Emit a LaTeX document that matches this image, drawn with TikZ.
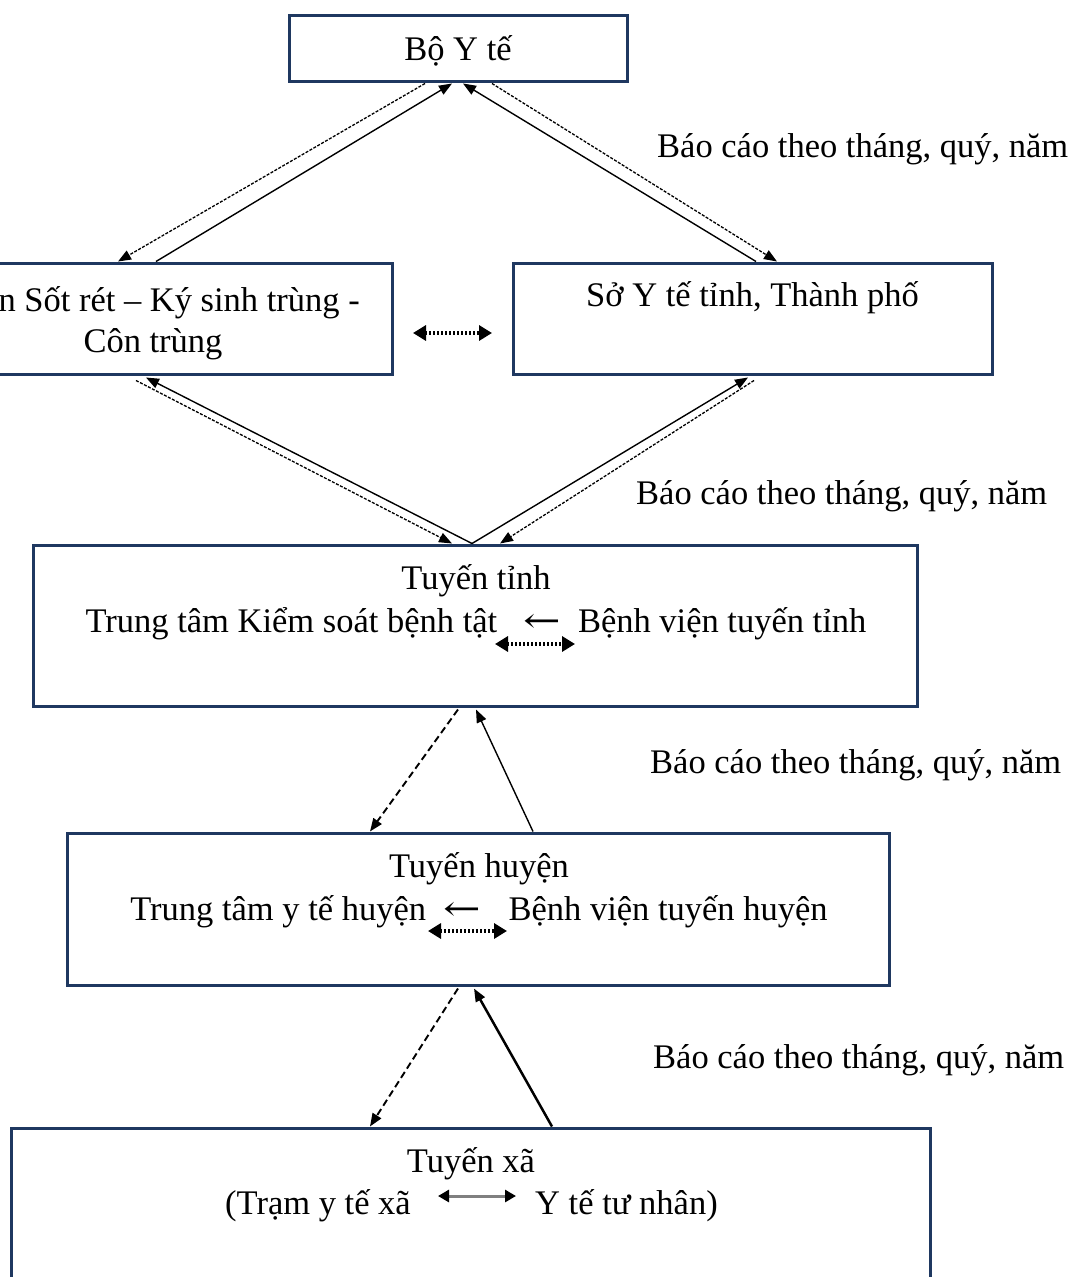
\documentclass[tikz,border=0pt]{standalone}
\usepackage{fontspec}
\setmainfont{Liberation Serif}
\newfontfamily\arrfont{DejaVu Serif}
\usetikzlibrary{arrows.meta}
\definecolor{navy}{RGB}{31,56,96}
\newcommand{\larr}{\scalebox{1.3}[1]{\arrfont ←}}
\begin{document}
\begin{tikzpicture}[x=1pt,y=-1pt, font=\fontsize{34.5pt}{40pt}\selectfont,
  box/.style={draw=navy, line width=3pt, inner sep=0pt},
  txt/.style={inner sep=0pt, anchor=base},
  lbl/.style={inner sep=0pt, anchor=base west},
  tip/.style={-{Triangle[length=13pt,width=10pt]}},
  upline/.style={tip, line width=1.4pt},
  upthick/.style={tip, line width=2.5pt},
  finedash/.style={tip, line width=1.3pt, dash pattern=on 3pt off 1.5pt},
  bigdash/.style={tip, line width=1.9pt, dash pattern=on 7pt off 4pt},
  dotarrow/.style={{Triangle[length=13pt,width=15pt]}-{Triangle[length=13pt,width=15pt]}, line width=3.2pt, dash pattern=on 2.2pt off 1.8pt},
  grayarrow/.style={{Triangle[length=11pt,width=12pt,color=black]}-{Triangle[length=11pt,width=12pt,color=black]}, draw=gray, line width=3pt}
]
\useasboundingbox (0,0) rectangle (1070,1277);
\fill[white] (0,0) rectangle (1070,1277);

% boxes
\node[box, minimum width=338pt, minimum height=66pt] (bo) at (458,48) {};
\node[box, minimum width=402pt, minimum height=111pt] (vien) at (191,318.5) {};
\node[box, minimum width=479pt, minimum height=111pt] (so) at (752.5,318.5) {};
\node[box, minimum width=884pt, minimum height=161pt] (tinh) at (475,625.5) {};
\node[box, minimum width=822pt, minimum height=152pt] (huyen) at (478,909) {};
\node[box, minimum width=919pt, minimum height=170pt] (xa) at (470.5,1213) {};

% texts
\node[txt] (tbo) at (458,60) {Bộ Y tế};
\node[inner sep=0pt, anchor=base east] (tvien1) at (360,311) {n Sốt rét – Ký sinh trùng -};
\node[txt] (tvien2) at (153,352) {Côn trùng};
\node[txt] (tso) at (752.5,306) {Sở Y tế tỉnh, Thành phố};
\node[txt] (ttinh1) at (476,589) {Tuyến tỉnh};
\node[txt] (ttinh2) at (476,632) {Trung tâm Kiểm soát bệnh tật\hspace{0.75em}\larr\hspace{0.5em}Bệnh viện tuyến tỉnh};
\node[txt] (thuyen1) at (479,877) {Tuyến huyện};
\node[txt] (thuyen2) at (479,920) {Trung tâm y tế huyện\hspace{0.5em}\larr\hspace{0.8em}Bệnh viện tuyến huyện};
\node[txt] (txa1) at (471,1172) {Tuyến xã};
\node[inner sep=0pt, anchor=base east] (txa2) at (411,1214) {(Trạm y tế xã};
\node[inner sep=0pt, anchor=base west] (txa3) at (535,1214) {Y tế tư nhân)};

\node[lbl] (l1) at (657,157) {Báo cáo theo tháng, quý, năm};
\node[lbl] (l2) at (636,504) {Báo cáo theo tháng, quý, năm};
\node[lbl] (l3) at (650,773) {Báo cáo theo tháng, quý, năm};
\node[lbl] (l4) at (653,1068) {Báo cáo theo tháng, quý, năm};

% small horizontal arrows
\coordinate (d1a) at (413,333); \coordinate (d1b) at (492,333);
\draw[dotarrow] (d1a) -- (d1b);
\coordinate (d2a) at (495,644); \coordinate (d2b) at (575,644);
\draw[dotarrow] (d2a) -- (d2b);
\coordinate (d3a) at (428,931); \coordinate (d3b) at (507,931);
\draw[dotarrow] (d3a) -- (d3b);
\draw[grayarrow] ([xshift=27pt,yshift=18pt]txa2.base east) -- ([xshift=-19pt,yshift=18pt]txa3.base west);

% top section
\draw[finedash] ([xshift=-33pt,yshift=-1pt]bo.south) -- ([xshift=-73pt]vien.north);
\draw[upline] ([xshift=-35pt]vien.north) -- ([xshift=-6pt,yshift=-1pt]bo.south);
\draw[upline] ([xshift=3.5pt]so.north) -- ([xshift=5pt,yshift=-1pt]bo.south);
\draw[finedash] ([xshift=34pt,yshift=-1pt]bo.south) -- ([xshift=24.5pt]so.north);

% middle section
\draw[upline] ([xshift=-3pt]tinh.north) -- ([xshift=-45pt,yshift=-2pt]vien.south);
\draw[upline] ([xshift=-3pt]tinh.north) -- ([xshift=-4.5pt,yshift=-2pt]so.south);
\draw[finedash] ([xshift=-55pt,yshift=-5pt]vien.south) -- ([xshift=-23pt]tinh.north);
\draw[finedash] ([xshift=1.5pt,yshift=-5pt]so.south) -- ([xshift=25pt]tinh.north);

% lower sections
\draw[bigdash] ([xshift=-17pt,yshift=-2pt]tinh.south) -- ([xshift=-108pt]huyen.north);
\draw[upline] ([xshift=55pt]huyen.north) -- ([xshift=1pt,yshift=-2pt]tinh.south);
\draw[bigdash] ([xshift=-20pt,yshift=-2pt]huyen.south) -- ([xshift=-100.5pt]xa.north);
\draw[upthick] ([xshift=81.5pt]xa.north) -- ([xshift=-4pt,yshift=-2pt]huyen.south);
\end{tikzpicture}
\end{document}
